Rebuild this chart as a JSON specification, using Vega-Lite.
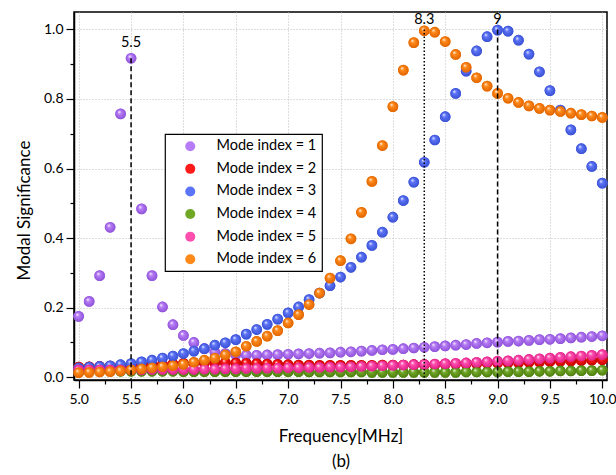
{
  "$schema": "https://vega.github.io/schema/vega-lite/v6.json",
  "width": 533,
  "height": 368,
  "autosize": {"type": "none"},
  "padding": {"left": 74, "top": 12, "right": 9, "bottom": 95},
  "background": "white",
  "config": {
    "font": "Lato",
    "view": {"stroke": "black", "strokeWidth": 1.5},
    "axis": {
      "domainColor": "black", "domainWidth": 1.5,
      "tickColor": "black", "tickWidth": 1.2,
      "labelColor": "black", "labelFont": "Lato", "labelFontSize": 14,
      "titleColor": "black", "titleFont": "Lato", "titleFontSize": 17, "titleFontWeight": "normal",
      "gridColor": "#bdbdbd", "gridDash": [1, 2], "gridWidth": 1,
      "labelOverlap": false, "labelFlush": false
    },
    "legend": {
      "orient": "none", "legendX": 91, "legendY": 122,
      "strokeColor": "black", "strokeWidth": 1.2, "fillColor": "white",
      "padding": 5, "rowPadding": 7.6,
      "labelFont": "Lato", "labelFontSize": 14.5, "labelColor": "black",
      "symbolSize": 100, "symbolStrokeWidth": 0, "symbolOffset": 13, "labelOffset": 19, "symbolOpacity": 1
    }
  },
  "data": {"values": [
{"f":5,"m":1,"v":0.175},{"f":5.1,"m":1,"v":0.218},{"f":5.2,"m":1,"v":0.292},{"f":5.3,"m":1,"v":0.431},{"f":5.4,"m":1,"v":0.757},{"f":5.5,"m":1,"v":0.917},{"f":5.6,"m":1,"v":0.484},{"f":5.7,"m":1,"v":0.292},{"f":5.8,"m":1,"v":0.202},{"f":5.9,"m":1,"v":0.151},{"f":6,"m":1,"v":0.120},
{"f":6.1,"m":1,"v":0.100},{"f":6.2,"m":1,"v":0.082},{"f":6.3,"m":1,"v":0.072},{"f":6.4,"m":1,"v":0.068},{"f":6.5,"m":1,"v":0.065},{"f":6.6,"m":1,"v":0.063},{"f":6.7,"m":1,"v":0.063},{"f":6.8,"m":1,"v":0.064},{"f":6.9,"m":1,"v":0.065},{"f":7,"m":1,"v":0.066},
{"f":7.1,"m":1,"v":0.067},{"f":7.2,"m":1,"v":0.068},{"f":7.3,"m":1,"v":0.069},{"f":7.4,"m":1,"v":0.070},{"f":7.5,"m":1,"v":0.072},{"f":7.6,"m":1,"v":0.073},{"f":7.7,"m":1,"v":0.075},{"f":7.8,"m":1,"v":0.077},{"f":7.9,"m":1,"v":0.079},{"f":8,"m":1,"v":0.080},
{"f":8.1,"m":1,"v":0.082},{"f":8.2,"m":1,"v":0.084},{"f":8.3,"m":1,"v":0.086},{"f":8.4,"m":1,"v":0.088},{"f":8.5,"m":1,"v":0.090},{"f":8.6,"m":1,"v":0.092},{"f":8.7,"m":1,"v":0.094},{"f":8.8,"m":1,"v":0.097},{"f":8.9,"m":1,"v":0.099},{"f":9,"m":1,"v":0.101},
{"f":9.1,"m":1,"v":0.103},{"f":9.2,"m":1,"v":0.104},{"f":9.3,"m":1,"v":0.106},{"f":9.4,"m":1,"v":0.108},{"f":9.5,"m":1,"v":0.109},{"f":9.6,"m":1,"v":0.111},{"f":9.7,"m":1,"v":0.113},{"f":9.8,"m":1,"v":0.115},{"f":9.9,"m":1,"v":0.117},{"f":10,"m":1,"v":0.119},
{"f":5,"m":2,"v":0.029},{"f":5.1,"m":2,"v":0.030},{"f":5.2,"m":2,"v":0.031},{"f":5.3,"m":2,"v":0.032},{"f":5.4,"m":2,"v":0.033},{"f":5.5,"m":2,"v":0.034},{"f":5.6,"m":2,"v":0.035},{"f":5.7,"m":2,"v":0.036},{"f":5.8,"m":2,"v":0.037},{"f":5.9,"m":2,"v":0.038},{"f":6,"m":2,"v":0.040},
{"f":6.1,"m":2,"v":0.041},{"f":6.2,"m":2,"v":0.041},{"f":6.3,"m":2,"v":0.042},{"f":6.4,"m":2,"v":0.042},{"f":6.5,"m":2,"v":0.041},{"f":6.6,"m":2,"v":0.040},{"f":6.7,"m":2,"v":0.039},{"f":6.8,"m":2,"v":0.038},{"f":6.9,"m":2,"v":0.037},{"f":7,"m":2,"v":0.036},
{"f":7.1,"m":2,"v":0.035},{"f":7.2,"m":2,"v":0.035},{"f":7.3,"m":2,"v":0.034},{"f":7.4,"m":2,"v":0.034},{"f":7.5,"m":2,"v":0.034},{"f":7.6,"m":2,"v":0.034},{"f":7.7,"m":2,"v":0.034},{"f":7.8,"m":2,"v":0.034},{"f":7.9,"m":2,"v":0.035},{"f":8,"m":2,"v":0.035},
{"f":8.1,"m":2,"v":0.035},{"f":8.2,"m":2,"v":0.036},{"f":8.3,"m":2,"v":0.036},{"f":8.4,"m":2,"v":0.036},{"f":8.5,"m":2,"v":0.037},{"f":8.6,"m":2,"v":0.038},{"f":8.7,"m":2,"v":0.038},{"f":8.8,"m":2,"v":0.039},{"f":8.9,"m":2,"v":0.040},{"f":9,"m":2,"v":0.041},
{"f":9.1,"m":2,"v":0.042},{"f":9.2,"m":2,"v":0.042},{"f":9.3,"m":2,"v":0.043},{"f":9.4,"m":2,"v":0.044},{"f":9.5,"m":2,"v":0.045},{"f":9.6,"m":2,"v":0.046},{"f":9.7,"m":2,"v":0.047},{"f":9.8,"m":2,"v":0.048},{"f":9.9,"m":2,"v":0.049},{"f":10,"m":2,"v":0.050},
{"f":5,"m":3,"v":0.027},{"f":5.1,"m":3,"v":0.029},{"f":5.2,"m":3,"v":0.031},{"f":5.3,"m":3,"v":0.033},{"f":5.4,"m":3,"v":0.036},{"f":5.5,"m":3,"v":0.039},{"f":5.6,"m":3,"v":0.044},{"f":5.7,"m":3,"v":0.049},{"f":5.8,"m":3,"v":0.055},{"f":5.9,"m":3,"v":0.061},{"f":6,"m":3,"v":0.068},
{"f":6.1,"m":3,"v":0.075},{"f":6.2,"m":3,"v":0.082},{"f":6.3,"m":3,"v":0.092},{"f":6.4,"m":3,"v":0.099},{"f":6.5,"m":3,"v":0.108},{"f":6.6,"m":3,"v":0.124},{"f":6.7,"m":3,"v":0.137},{"f":6.8,"m":3,"v":0.152},{"f":6.9,"m":3,"v":0.167},{"f":7,"m":3,"v":0.185},
{"f":7.1,"m":3,"v":0.202},{"f":7.2,"m":3,"v":0.223},{"f":7.3,"m":3,"v":0.242},{"f":7.4,"m":3,"v":0.263},{"f":7.5,"m":3,"v":0.288},{"f":7.6,"m":3,"v":0.316},{"f":7.7,"m":3,"v":0.345},{"f":7.8,"m":3,"v":0.379},{"f":7.9,"m":3,"v":0.417},{"f":8,"m":3,"v":0.460},
{"f":8.1,"m":3,"v":0.508},{"f":8.2,"m":3,"v":0.561},{"f":8.3,"m":3,"v":0.618},{"f":8.4,"m":3,"v":0.682},{"f":8.5,"m":3,"v":0.749},{"f":8.6,"m":3,"v":0.816},{"f":8.7,"m":3,"v":0.880},{"f":8.8,"m":3,"v":0.938},{"f":8.9,"m":3,"v":0.979},{"f":9,"m":3,"v":0.998},
{"f":9.1,"m":3,"v":0.995},{"f":9.2,"m":3,"v":0.969},{"f":9.3,"m":3,"v":0.929},{"f":9.4,"m":3,"v":0.878},{"f":9.5,"m":3,"v":0.824},{"f":9.6,"m":3,"v":0.768},{"f":9.7,"m":3,"v":0.711},{"f":9.8,"m":3,"v":0.657},{"f":9.9,"m":3,"v":0.606},{"f":10,"m":3,"v":0.558},
{"f":5,"m":4,"v":0.018},{"f":5.1,"m":4,"v":0.018},{"f":5.2,"m":4,"v":0.018},{"f":5.3,"m":4,"v":0.018},{"f":5.4,"m":4,"v":0.017},{"f":5.5,"m":4,"v":0.017},{"f":5.6,"m":4,"v":0.017},{"f":5.7,"m":4,"v":0.017},{"f":5.8,"m":4,"v":0.017},{"f":5.9,"m":4,"v":0.017},{"f":6,"m":4,"v":0.016},
{"f":6.1,"m":4,"v":0.016},{"f":6.2,"m":4,"v":0.016},{"f":6.3,"m":4,"v":0.016},{"f":6.4,"m":4,"v":0.016},{"f":6.5,"m":4,"v":0.016},{"f":6.6,"m":4,"v":0.016},{"f":6.7,"m":4,"v":0.016},{"f":6.8,"m":4,"v":0.016},{"f":6.9,"m":4,"v":0.016},{"f":7,"m":4,"v":0.016},
{"f":7.1,"m":4,"v":0.016},{"f":7.2,"m":4,"v":0.015},{"f":7.3,"m":4,"v":0.015},{"f":7.4,"m":4,"v":0.015},{"f":7.5,"m":4,"v":0.015},{"f":7.6,"m":4,"v":0.015},{"f":7.7,"m":4,"v":0.015},{"f":7.8,"m":4,"v":0.014},{"f":7.9,"m":4,"v":0.014},{"f":8,"m":4,"v":0.014},
{"f":8.1,"m":4,"v":0.014},{"f":8.2,"m":4,"v":0.014},{"f":8.3,"m":4,"v":0.014},{"f":8.4,"m":4,"v":0.014},{"f":8.5,"m":4,"v":0.014},{"f":8.6,"m":4,"v":0.014},{"f":8.7,"m":4,"v":0.015},{"f":8.8,"m":4,"v":0.015},{"f":8.9,"m":4,"v":0.015},{"f":9,"m":4,"v":0.015},
{"f":9.1,"m":4,"v":0.016},{"f":9.2,"m":4,"v":0.016},{"f":9.3,"m":4,"v":0.016},{"f":9.4,"m":4,"v":0.017},{"f":9.5,"m":4,"v":0.017},{"f":9.6,"m":4,"v":0.018},{"f":9.7,"m":4,"v":0.018},{"f":9.8,"m":4,"v":0.019},{"f":9.9,"m":4,"v":0.019},{"f":10,"m":4,"v":0.020},
{"f":5,"m":5,"v":0.021},{"f":5.1,"m":5,"v":0.021},{"f":5.2,"m":5,"v":0.021},{"f":5.3,"m":5,"v":0.021},{"f":5.4,"m":5,"v":0.021},{"f":5.5,"m":5,"v":0.021},{"f":5.6,"m":5,"v":0.021},{"f":5.7,"m":5,"v":0.022},{"f":5.8,"m":5,"v":0.022},{"f":5.9,"m":5,"v":0.022},{"f":6,"m":5,"v":0.022},
{"f":6.1,"m":5,"v":0.022},{"f":6.2,"m":5,"v":0.023},{"f":6.3,"m":5,"v":0.023},{"f":6.4,"m":5,"v":0.024},{"f":6.5,"m":5,"v":0.024},{"f":6.6,"m":5,"v":0.025},{"f":6.7,"m":5,"v":0.025},{"f":6.8,"m":5,"v":0.026},{"f":6.9,"m":5,"v":0.026},{"f":7,"m":5,"v":0.027},
{"f":7.1,"m":5,"v":0.027},{"f":7.2,"m":5,"v":0.028},{"f":7.3,"m":5,"v":0.028},{"f":7.4,"m":5,"v":0.029},{"f":7.5,"m":5,"v":0.029},{"f":7.6,"m":5,"v":0.030},{"f":7.7,"m":5,"v":0.031},{"f":7.8,"m":5,"v":0.032},{"f":7.9,"m":5,"v":0.033},{"f":8,"m":5,"v":0.034},
{"f":8.1,"m":5,"v":0.035},{"f":8.2,"m":5,"v":0.036},{"f":8.3,"m":5,"v":0.037},{"f":8.4,"m":5,"v":0.038},{"f":8.5,"m":5,"v":0.039},{"f":8.6,"m":5,"v":0.040},{"f":8.7,"m":5,"v":0.041},{"f":8.8,"m":5,"v":0.043},{"f":8.9,"m":5,"v":0.044},{"f":9,"m":5,"v":0.046},
{"f":9.1,"m":5,"v":0.047},{"f":9.2,"m":5,"v":0.049},{"f":9.3,"m":5,"v":0.051},{"f":9.4,"m":5,"v":0.053},{"f":9.5,"m":5,"v":0.055},{"f":9.6,"m":5,"v":0.057},{"f":9.7,"m":5,"v":0.059},{"f":9.8,"m":5,"v":0.061},{"f":9.9,"m":5,"v":0.063},{"f":10,"m":5,"v":0.065},
{"f":5,"m":6,"v":0.013},{"f":5.1,"m":6,"v":0.014},{"f":5.2,"m":6,"v":0.015},{"f":5.3,"m":6,"v":0.016},{"f":5.4,"m":6,"v":0.018},{"f":5.5,"m":6,"v":0.021},{"f":5.6,"m":6,"v":0.024},{"f":5.7,"m":6,"v":0.027},{"f":5.8,"m":6,"v":0.030},{"f":5.9,"m":6,"v":0.033},{"f":6,"m":6,"v":0.037},
{"f":6.1,"m":6,"v":0.043},{"f":6.2,"m":6,"v":0.049},{"f":6.3,"m":6,"v":0.055},{"f":6.4,"m":6,"v":0.064},{"f":6.5,"m":6,"v":0.073},{"f":6.6,"m":6,"v":0.089},{"f":6.7,"m":6,"v":0.103},{"f":6.8,"m":6,"v":0.118},{"f":6.9,"m":6,"v":0.134},{"f":7,"m":6,"v":0.156},
{"f":7.1,"m":6,"v":0.180},{"f":7.2,"m":6,"v":0.209},{"f":7.3,"m":6,"v":0.242},{"f":7.4,"m":6,"v":0.285},{"f":7.5,"m":6,"v":0.335},{"f":7.6,"m":6,"v":0.398},{"f":7.7,"m":6,"v":0.474},{"f":7.8,"m":6,"v":0.563},{"f":7.9,"m":6,"v":0.666},{"f":8,"m":6,"v":0.778},
{"f":8.1,"m":6,"v":0.883},{"f":8.2,"m":6,"v":0.962},{"f":8.3,"m":6,"v":0.996},{"f":8.4,"m":6,"v":0.992},{"f":8.5,"m":6,"v":0.965},{"f":8.6,"m":6,"v":0.928},{"f":8.7,"m":6,"v":0.891},{"f":8.8,"m":6,"v":0.861},{"f":8.9,"m":6,"v":0.837},{"f":9,"m":6,"v":0.816},
{"f":9.1,"m":6,"v":0.802},{"f":9.2,"m":6,"v":0.790},{"f":9.3,"m":6,"v":0.780},{"f":9.4,"m":6,"v":0.773},{"f":9.5,"m":6,"v":0.768},{"f":9.6,"m":6,"v":0.764},{"f":9.7,"m":6,"v":0.759},{"f":9.8,"m":6,"v":0.755},{"f":9.9,"m":6,"v":0.751},{"f":10,"m":6,"v":0.747}
  ]},
  "encoding": {
    "x": {
      "field": "f", "type": "quantitative",
      "scale": {"domain": [4.955, 10.045], "nice": false, "zero": false},
      "axis": {
        "values": [5,5.25,5.5,5.75,6,6.25,6.5,6.75,7,7.25,7.5,7.75,8,8.25,8.5,8.75,9,9.25,9.5,9.75,10],
        "labelExpr": "round(datum.value*4) % 2 == 0 ? format(datum.value, '.1f') : ''",
        "tickSize": {"condition": {"test": "round(datum.value*4) % 2 == 0", "value": 8}, "value": 4},
        "gridOpacity": {"condition": {"test": "round(datum.value*4) % 2 == 0", "value": 1}, "value": 0},
        "grid": true,
        "labelPadding": 4,
        "title": ["Frequency[MHz]", "(b)"],
        "titleLineHeight": 25,
        "titleBaseline": "alphabetic",
        "titleY": 61
      }
    },
    "y": {
      "field": "v", "type": "quantitative",
      "scale": {"domain": [-0.008, 1.05], "nice": false, "zero": false},
      "axis": {
        "values": [0,0.1,0.2,0.3,0.4,0.5,0.6,0.7,0.8,0.9,1.0],
        "labelExpr": "round(datum.value*10) % 2 == 0 ? format(datum.value, '.1f') : ''",
        "tickSize": {"condition": {"test": "round(datum.value*10) % 2 == 0", "value": 8}, "value": 4},
        "gridOpacity": {"condition": {"test": "round(datum.value*10) % 2 == 0", "value": 1}, "value": 0},
        "grid": true,
        "labelPadding": 3,
        "title": "Modal Significance",
        "titleBaseline": "middle",
        "titleX": -50,
        "titleY": 198,
        "titleAngle": -90,
        "titleAlign": "center"
      }
    }
  },
  "layer": [
    {
      "mark": {"type": "point", "filled": true, "size": 115, "opacity": 1, "strokeWidth": 0},
      "encoding": {
        "color": {
          "field": "m", "type": "nominal",
          "scale": {"domain": [1, 2, 3, 4, 5, 6], "range": ["#b77cf5", "#ff1a1a", "#5c74f7", "#70a826", "#ff4fae", "#ff8a1a"]},
          "legend": {"title": null, "labelExpr": "'Mode index = ' + datum.label"}
        }
      }
    },
    {"transform": [{"filter": "datum.m == 1"}], "mark": {"type": "point", "filled": true, "size": 115, "opacity": 1, "strokeWidth": 0, "fill": {"gradient": "radial", "x1": 0.35, "y1": 0.3, "r1": 0, "x2": 0.5, "y2": 0.5, "r2": 0.5, "stops": [{"offset": 0, "color": "#ffffff"}, {"offset": 0.35, "color": "#b77cf5"}, {"offset": 1, "color": "#8e52d8"}]}}},
    {"transform": [{"filter": "datum.m == 2"}], "mark": {"type": "point", "filled": true, "size": 115, "opacity": 1, "strokeWidth": 0, "fill": {"gradient": "radial", "x1": 0.35, "y1": 0.3, "r1": 0, "x2": 0.5, "y2": 0.5, "r2": 0.5, "stops": [{"offset": 0, "color": "#ffffff"}, {"offset": 0.35, "color": "#ff1a1a"}, {"offset": 1, "color": "#c40000"}]}}},
    {"transform": [{"filter": "datum.m == 3"}], "mark": {"type": "point", "filled": true, "size": 115, "opacity": 1, "strokeWidth": 0, "fill": {"gradient": "radial", "x1": 0.35, "y1": 0.3, "r1": 0, "x2": 0.5, "y2": 0.5, "r2": 0.5, "stops": [{"offset": 0, "color": "#ffffff"}, {"offset": 0.35, "color": "#5c74f7"}, {"offset": 1, "color": "#3a50d2"}]}}},
    {"transform": [{"filter": "datum.m == 4"}], "mark": {"type": "point", "filled": true, "size": 115, "opacity": 1, "strokeWidth": 0, "fill": {"gradient": "radial", "x1": 0.35, "y1": 0.3, "r1": 0, "x2": 0.5, "y2": 0.5, "r2": 0.5, "stops": [{"offset": 0, "color": "#ffffff"}, {"offset": 0.35, "color": "#70a826"}, {"offset": 1, "color": "#4e7e10"}]}}},
    {"transform": [{"filter": "datum.m == 5"}], "mark": {"type": "point", "filled": true, "size": 115, "opacity": 1, "strokeWidth": 0, "fill": {"gradient": "radial", "x1": 0.35, "y1": 0.3, "r1": 0, "x2": 0.5, "y2": 0.5, "r2": 0.5, "stops": [{"offset": 0, "color": "#ffffff"}, {"offset": 0.35, "color": "#ff4fae"}, {"offset": 1, "color": "#de2088"}]}}},
    {"transform": [{"filter": "datum.m == 6"}], "mark": {"type": "point", "filled": true, "size": 115, "opacity": 1, "strokeWidth": 0, "fill": {"gradient": "radial", "x1": 0.35, "y1": 0.3, "r1": 0, "x2": 0.5, "y2": 0.5, "r2": 0.5, "stops": [{"offset": 0, "color": "#ffffff"}, {"offset": 0.35, "color": "#ff8a1a"}, {"offset": 1, "color": "#e06400"}]}}},
    {
      "data": {"values": [{"f": 5.5, "v": 0.917, "label": "5.5"}, {"f": 8.3, "v": 1.0, "label": "8.3"}, {"f": 9, "v": 1.0, "label": "9"}]},
      "layer": [
        {
          "transform": [{"filter": "datum.label != '8.3'"}],
          "mark": {"type": "rule", "color": "black", "strokeWidth": 1.5, "strokeDash": [5, 3]},
          "encoding": {"y2": {"datum": -0.008}}
        },
        {
          "transform": [{"filter": "datum.label == '8.3'"}],
          "mark": {"type": "rule", "color": "black", "strokeWidth": 1.5, "strokeDash": [1.5, 2]},
          "encoding": {"y2": {"datum": -0.008}}
        },
        {
          "transform": [{"filter": "datum.label == '5.5'"}],
          "mark": {"type": "text", "fontSize": 14.5, "font": "Lato", "color": "black", "baseline": "middle", "dy": -15},
          "encoding": {"text": {"field": "label"}}
        },
        {
          "transform": [{"filter": "datum.label != '5.5'"}],
          "mark": {"type": "text", "fontSize": 14.5, "font": "Lato", "color": "black", "baseline": "middle", "dy": -9},
          "encoding": {"text": {"field": "label"}}
        }
      ]
    }
  ]
}
